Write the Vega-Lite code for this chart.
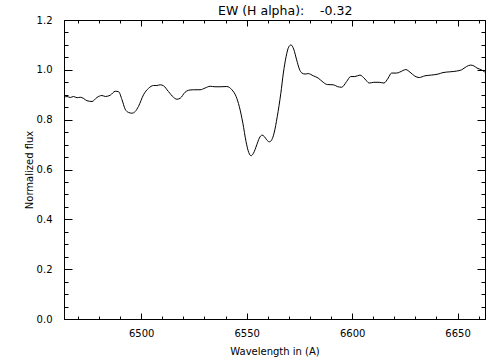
{
  "$schema": "https://vega.github.io/schema/vega-lite/v6.json",
  "width": 421,
  "height": 299,
  "autosize": {"type": "none"},
  "padding": {"left": 64, "top": 20, "right": 19, "bottom": 41},
  "background": "white",
  "title": {"text": "EW (H alpha):\u00a0\u00a0\u00a0\u00a0-0.32", "anchor": "start", "frame": "group", "dx": 154, "offset": -12, "baseline": "alphabetic", "font": "DejaVu Sans", "fontSize": 12.5, "fontWeight": "normal", "color": "black"},
  "data": {"values": [
    {"w": 6463.5, "f": 0.890}, {"w": 6464.8, "f": 0.893}, {"w": 6466.4, "f": 0.889}, {"w": 6467.9, "f": 0.893},
    {"w": 6469.6, "f": 0.888}, {"w": 6471.1, "f": 0.890}, {"w": 6472.7, "f": 0.885}, {"w": 6474.3, "f": 0.876},
    {"w": 6476.7, "f": 0.873}, {"w": 6479.0, "f": 0.889}, {"w": 6481.4, "f": 0.897}, {"w": 6483.0, "f": 0.893},
    {"w": 6485.3, "f": 0.898}, {"w": 6487.7, "f": 0.914}, {"w": 6489.3, "f": 0.912}, {"w": 6490.9, "f": 0.880},
    {"w": 6492.4, "f": 0.842}, {"w": 6494.0, "f": 0.829}, {"w": 6495.6, "f": 0.826}, {"w": 6497.2, "f": 0.833},
    {"w": 6498.7, "f": 0.853}, {"w": 6501.1, "f": 0.900}, {"w": 6503.5, "f": 0.926}, {"w": 6505.8, "f": 0.937},
    {"w": 6507.4, "f": 0.937}, {"w": 6509.0, "f": 0.940}, {"w": 6510.6, "f": 0.936}, {"w": 6512.9, "f": 0.913},
    {"w": 6515.3, "f": 0.890}, {"w": 6516.9, "f": 0.882}, {"w": 6518.5, "f": 0.886}, {"w": 6520.8, "f": 0.910},
    {"w": 6522.4, "f": 0.918}, {"w": 6524.8, "f": 0.920}, {"w": 6527.9, "f": 0.920}, {"w": 6530.3, "f": 0.927},
    {"w": 6532.7, "f": 0.934}, {"w": 6535.0, "f": 0.932}, {"w": 6537.4, "f": 0.932}, {"w": 6540.6, "f": 0.933},
    {"w": 6543.0, "f": 0.920}, {"w": 6545.0, "f": 0.893}, {"w": 6546.5, "f": 0.853}, {"w": 6548.2, "f": 0.786},
    {"w": 6549.7, "f": 0.712}, {"w": 6551.0, "f": 0.668}, {"w": 6552.1, "f": 0.655}, {"w": 6553.2, "f": 0.665},
    {"w": 6554.8, "f": 0.699}, {"w": 6556.0, "f": 0.726}, {"w": 6557.3, "f": 0.738}, {"w": 6558.4, "f": 0.732},
    {"w": 6559.5, "f": 0.719}, {"w": 6560.8, "f": 0.711}, {"w": 6561.9, "f": 0.719}, {"w": 6563.0, "f": 0.746},
    {"w": 6564.5, "f": 0.812}, {"w": 6566.2, "f": 0.906}, {"w": 6567.4, "f": 0.987}, {"w": 6568.7, "f": 1.053},
    {"w": 6569.9, "f": 1.091}, {"w": 6571.0, "f": 1.100}, {"w": 6572.3, "f": 1.083}, {"w": 6573.7, "f": 1.040},
    {"w": 6575.0, "f": 1.003}, {"w": 6576.2, "f": 0.987}, {"w": 6577.7, "f": 0.983}, {"w": 6579.2, "f": 0.985},
    {"w": 6581.6, "f": 0.976}, {"w": 6583.9, "f": 0.967}, {"w": 6586.3, "f": 0.950}, {"w": 6588.2, "f": 0.941},
    {"w": 6591.1, "f": 0.940}, {"w": 6593.0, "f": 0.933}, {"w": 6595.0, "f": 0.930}, {"w": 6597.4, "f": 0.953},
    {"w": 6599.3, "f": 0.973}, {"w": 6601.3, "f": 0.973}, {"w": 6603.7, "f": 0.979}, {"w": 6606.1, "f": 0.963},
    {"w": 6608.1, "f": 0.947}, {"w": 6610.3, "f": 0.950}, {"w": 6612.8, "f": 0.950}, {"w": 6615.1, "f": 0.947},
    {"w": 6617.1, "f": 0.967}, {"w": 6618.7, "f": 0.987}, {"w": 6621.1, "f": 0.987}, {"w": 6622.6, "f": 0.991},
    {"w": 6625.5, "f": 1.001}, {"w": 6627.4, "f": 0.991}, {"w": 6629.7, "f": 0.975}, {"w": 6631.8, "f": 0.969},
    {"w": 6634.5, "f": 0.976}, {"w": 6637.6, "f": 0.979}, {"w": 6640.8, "f": 0.983}, {"w": 6643.1, "f": 0.989},
    {"w": 6646.3, "f": 0.992}, {"w": 6649.5, "f": 0.995}, {"w": 6651.9, "f": 1.000}, {"w": 6654.2, "f": 1.013},
    {"w": 6656.1, "f": 1.019}, {"w": 6657.7, "f": 1.016}, {"w": 6659.2, "f": 1.007}, {"w": 6661.3, "f": 1.000},
    {"w": 6662.9, "f": 0.991}
  ]},
  "layer": [
    {
      "mark": {"type": "line", "color": "black", "strokeWidth": 1, "interpolate": "monotone"},
      "encoding": {
        "x": {"field": "w", "type": "quantitative", "scale": {"domain": [6463.4, 6663], "nice": false, "zero": false},
              "axis": {"orient": "bottom", "ticks": true, "tickColor": "black", "domainColor": "black",
                       "values": [6470, 6480, 6490, 6500, 6510, 6520, 6530, 6540, 6550, 6560, 6570, 6580, 6590, 6600, 6610, 6620, 6630, 6640, 6650, 6660],
                       "format": "d", "labelExpr": "datum.value % 50 === 0 ? datum.label : ''",
                       "tickSize": {"condition": {"test": "datum.value % 50 === 0", "value": -6}, "value": -3},
                       "labelPadding": 15, "labelFlush": false, "title": "Wavelength in (A)", "titlePadding": 8}},
        "y": {"field": "f", "type": "quantitative", "scale": {"domain": [0, 1.2], "nice": false, "zero": false},
              "axis": {"orient": "left", "ticks": true, "tickColor": "black", "domainColor": "black",
                       "values": [0, 0.05, 0.1, 0.15, 0.2, 0.25, 0.3, 0.35, 0.4, 0.45, 0.5, 0.55, 0.6, 0.65, 0.7, 0.75, 0.8, 0.85, 0.9, 0.95, 1.0, 1.05, 1.1, 1.15, 1.2],
                       "format": ".1f", "labelExpr": "abs(datum.value * 5 - round(datum.value * 5)) < 0.001 ? datum.label : ''",
                       "tickSize": {"condition": {"test": "abs(datum.value * 5 - round(datum.value * 5)) < 0.001", "value": -8}, "value": -4},
                       "labelPadding": 20, "labelFlush": false, "title": "Normalized flux", "titlePadding": 2}}
      }
    },
    {
      "mark": {"type": "line", "strokeOpacity": 0},
      "encoding": {
        "x": {"field": "w", "type": "quantitative",
              "axis": {"orient": "top", "ticks": true, "tickColor": "black", "domainColor": "black",
                       "values": [6470, 6480, 6490, 6500, 6510, 6520, 6530, 6540, 6550, 6560, 6570, 6580, 6590, 6600, 6610, 6620, 6630, 6640, 6650, 6660],
                       "tickSize": {"condition": {"test": "datum.value % 50 === 0", "value": -6}, "value": -3},
                       "labels": false, "title": null}},
        "y": {"field": "f", "type": "quantitative",
              "axis": {"orient": "right", "ticks": true, "tickColor": "black", "domainColor": "black",
                       "values": [0, 0.05, 0.1, 0.15, 0.2, 0.25, 0.3, 0.35, 0.4, 0.45, 0.5, 0.55, 0.6, 0.65, 0.7, 0.75, 0.8, 0.85, 0.9, 0.95, 1.0, 1.05, 1.1, 1.15, 1.2],
                       "tickSize": {"condition": {"test": "abs(datum.value * 5 - round(datum.value * 5)) < 0.001", "value": -8}, "value": -4},
                       "labels": false, "title": null}}
      }
    }
  ],
  "resolve": {"axis": {"x": "independent", "y": "independent"}},
  "config": {
    "view": {"stroke": "black", "strokeWidth": 1},
    "axis": {"grid": false, "labelColor": "black", "titleColor": "black", "labelFont": "DejaVu Sans", "titleFont": "DejaVu Sans", "labelFontSize": 10, "titleFontSize": 10, "titleFontWeight": "normal"}
  }
}
